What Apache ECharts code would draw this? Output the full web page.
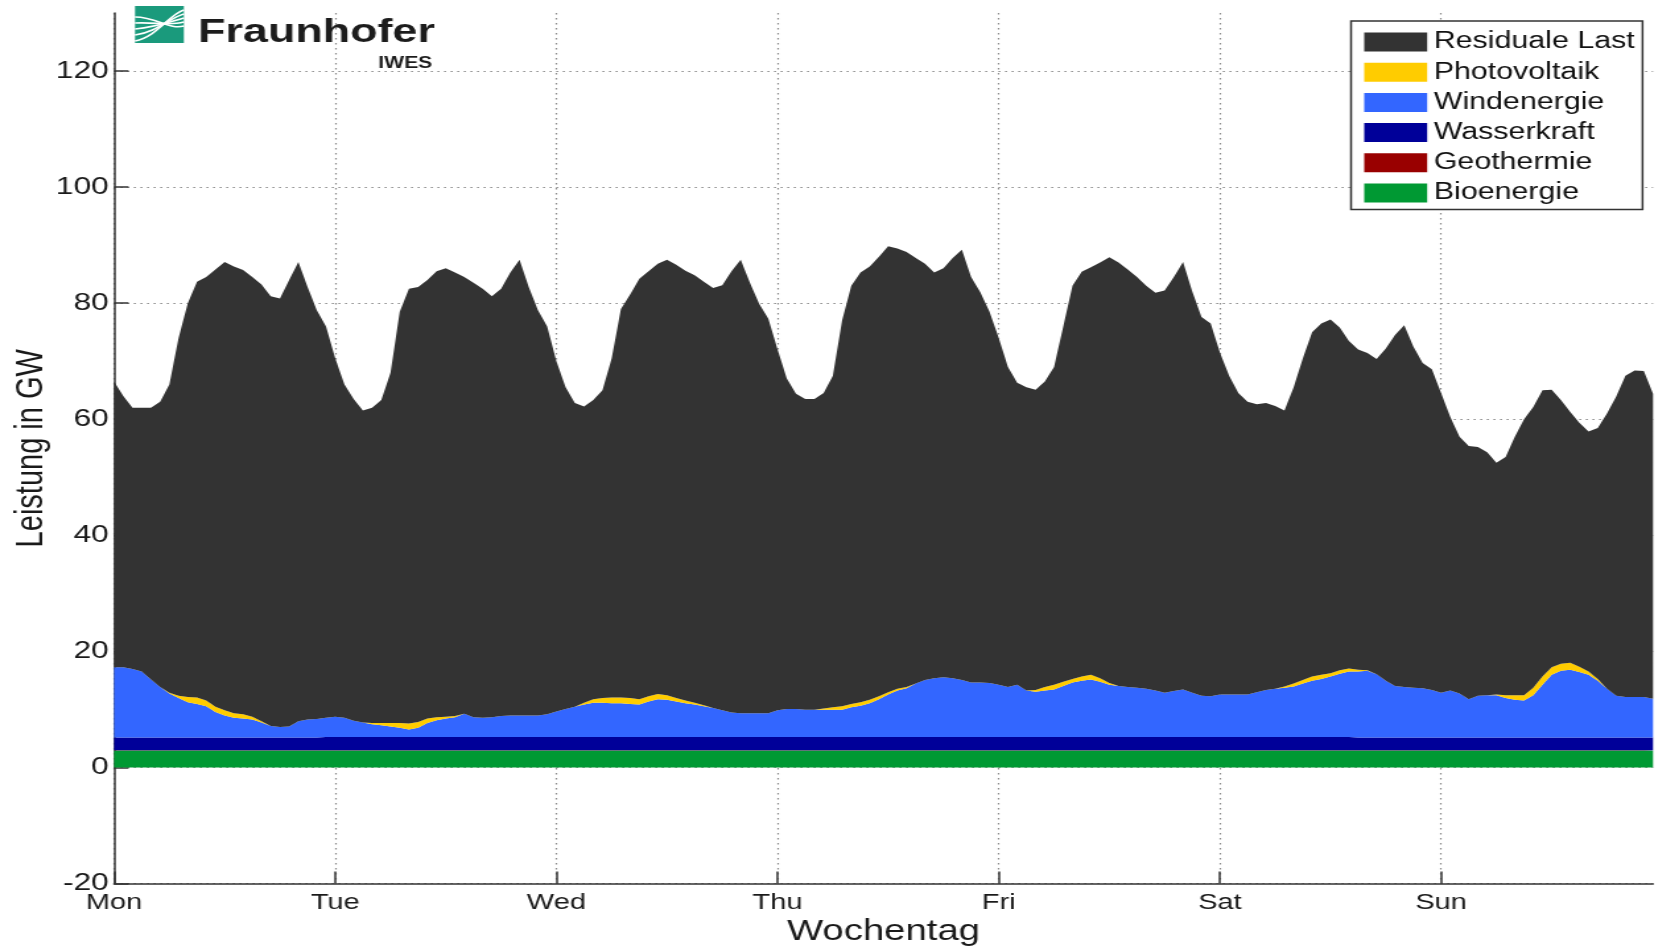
<!DOCTYPE html>
<html>
<head>
<meta charset="utf-8">
<title>Residuale Last</title>
<script src="https://cdn.jsdelivr.net/npm/echarts@6/dist/echarts.min.js"></script>
<style>
  html, body { margin: 0; padding: 0; background: #fff; overflow: hidden; }
  /* the original picture is stretched sideways, so the chart is too */
  #chart { width: 1254px; height: 947px; transform: scaleX(1.32); transform-origin: 0 0; }
</style>
</head>
<body>
<div id="chart"></div>
<script>
// Wochentage (Tick-Beschriftung alle 24 h)
const tage = ['Mon', 'Tue', 'Wed', 'Thu', 'Fri', 'Sat', 'Sun'];

// Gesamtlast in GW, stuendlich (168 h)
const gesamtLast = [
  66.5, 64, 62, 62, 62, 63, 66, 74, 80, 83.7, 84.5, 85.8, 87.1, 86.3, 85.7, 84.5, 83.2, 81.2, 80.8, 84, 87.1, 82.8, 78.8, 76,
  70.5, 66, 63.5, 61.5, 62, 63.3, 68, 78.5, 82.5, 82.8, 84, 85.5, 86, 85.3, 84.5, 83.5, 82.5, 81.2, 82.5, 85.3, 87.5, 82.8, 78.8, 76,
  70, 65.5, 62.8, 62.2, 63.3, 65, 70.5, 79, 81.5, 84.2, 85.5, 86.8, 87.5, 86.6, 85.6, 84.8, 83.7, 82.6, 83.1, 85.5, 87.5, 83.5, 79.9, 77.3,
  72, 67, 64.4, 63.5, 63.5, 64.5, 67.5, 77, 83, 85.3, 86.3, 88, 89.8, 89.4, 88.8, 87.8, 86.8, 85.3, 86, 87.8, 89.2, 84.5, 81.9, 78.5,
  74, 69, 66.3, 65.5, 65.1, 66.5, 69, 76, 83, 85.4, 86.2, 87, 87.9, 87, 85.8, 84.5, 83, 81.8, 82.2, 84.5, 87.1, 82, 77.6, 76.5,
  71.5, 67.5, 64.5, 63, 62.6, 62.8, 62.3, 61.5, 65.5, 70.5, 75, 76.5, 77.2, 75.8, 73.5, 72, 71.4, 70.4, 72.2, 74.5, 76.2, 72.5, 69.7, 68.6,
  64.5, 60.4, 57, 55.4, 55.2, 54.3, 52.5, 53.5, 57, 60, 62.1, 65, 65.1, 63.3, 61.3, 59.4, 57.9, 58.5, 61, 63.9, 67.5, 68.4, 68.3, 64.4
];

const photovoltaik = [
  0, 0, 0, 0, 0, 0, 0.1, 0.4, 0.9, 1.1, 1.0, 0.9, 0.9, 0.8, 0.7, 0.5, 0.2, 0, 0, 0, 0, 0, 0, 0,
  0, 0, 0, 0, 0.2, 0.4, 0.6, 0.8, 1.0, 1.0, 0.8, 0.5, 0.3, 0.2, 0, 0, 0, 0, 0, 0, 0, 0, 0, 0,
  0, 0, 0, 0.3, 0.6, 0.8, 1.0, 1.0, 1.0, 0.9, 0.9, 0.9, 0.8, 0.6, 0.5, 0.3, 0.15, 0, 0, 0, 0, 0, 0, 0,
  0, 0, 0, 0, 0, 0.2, 0.4, 0.6, 0.6, 0.6, 0.6, 0.5, 0.4, 0.3, 0.2, 0, 0, 0, 0, 0, 0, 0, 0, 0,
  0, 0, 0, 0, 0.3, 0.6, 0.8, 0.7, 0.6, 0.7, 0.8, 0.6, 0.3, 0, 0, 0, 0, 0, 0, 0, 0, 0, 0, 0,
  0, 0, 0, 0, 0, 0, 0, 0.2, 0.5, 0.6, 0.7, 0.7, 0.6, 0.6, 0.5, 0.3, 0.1, 0, 0, 0, 0, 0, 0, 0,
  0, 0, 0, 0, 0, 0, 0.1, 0.5, 0.8, 0.9, 1.3, 1.4, 1.3, 1.2, 1.2, 0.9, 0.6, 0.3, 0, 0, 0, 0, 0, 0
];

const windenergie = [
  12.1, 12.1, 11.8, 11.4, 10.0, 8.7, 7.6, 6.8, 6.1, 5.8, 5.4, 4.4, 3.8, 3.4, 3.3, 3.1, 2.6, 2.0, 1.8, 1.9, 2.8, 3.1, 3.2, 3.3,
  3.5, 3.3, 2.8, 2.5, 2.2, 2.0, 1.8, 1.6, 1.3, 1.6, 2.4, 2.9, 3.2, 3.4, 4.0, 3.4, 3.3, 3.4, 3.6, 3.7, 3.7, 3.7, 3.7, 3.9,
  4.4, 4.8, 5.2, 5.6, 5.9, 5.9, 5.8, 5.8, 5.7, 5.6, 6.1, 6.5, 6.4, 6.1, 5.8, 5.6, 5.3, 5.0, 4.6, 4.2, 4.1, 4.1, 4.1, 4.1,
  4.6, 4.8, 4.8, 4.7, 4.7, 4.7, 4.7, 4.7, 5.1, 5.4, 5.8, 6.5, 7.3, 8.0, 8.4, 9.2, 9.8, 10.1, 10.3, 10.1, 9.8, 9.4, 9.4, 9.3,
  9.0, 8.6, 9.0, 8.0, 7.8, 8.0, 8.2, 8.8, 9.4, 9.7, 9.9, 9.5, 9.0, 8.8, 8.6, 8.5, 8.3, 8.0, 7.6, 7.9, 8.2, 7.6, 7.1, 7.0,
  7.3, 7.3, 7.3, 7.3, 7.7, 8.1, 8.3, 8.5, 8.7, 9.2, 9.7, 10.0, 10.4, 10.9, 11.3, 11.4, 11.5, 10.9, 9.8, 8.9, 8.7, 8.6, 8.5, 8.2,
  7.7, 8.1, 7.6, 6.6, 7.2, 7.3, 7.3, 6.8, 6.5, 6.4, 7.3, 9.1, 10.8, 11.5, 11.7, 11.3, 10.8, 9.8, 8.4, 7.2, 7.0, 7.0, 7.0, 6.7
];

const wasserkraft = [
  2.2, 2.2, 2.2, 2.2, 2.2, 2.2, 2.2, 2.2, 2.2, 2.2, 2.2, 2.2, 2.2, 2.2, 2.2, 2.2, 2.2, 2.2, 2.2, 2.2, 2.2, 2.2, 2.2, 2.3,
  2.3, 2.3, 2.3, 2.3, 2.3, 2.3, 2.3, 2.3, 2.3, 2.3, 2.3, 2.3, 2.3, 2.3, 2.3, 2.3, 2.3, 2.3, 2.3, 2.3, 2.3, 2.3, 2.3, 2.3,
  2.3, 2.3, 2.3, 2.3, 2.3, 2.3, 2.3, 2.3, 2.3, 2.3, 2.3, 2.3, 2.3, 2.3, 2.3, 2.3, 2.3, 2.3, 2.3, 2.3, 2.3, 2.3, 2.3, 2.3,
  2.3, 2.3, 2.3, 2.3, 2.3, 2.3, 2.3, 2.3, 2.3, 2.3, 2.3, 2.3, 2.3, 2.3, 2.3, 2.3, 2.3, 2.3, 2.3, 2.3, 2.3, 2.3, 2.3, 2.3,
  2.3, 2.3, 2.3, 2.3, 2.3, 2.3, 2.3, 2.3, 2.3, 2.3, 2.3, 2.3, 2.3, 2.3, 2.3, 2.3, 2.3, 2.3, 2.3, 2.3, 2.3, 2.3, 2.3, 2.3,
  2.3, 2.3, 2.3, 2.3, 2.3, 2.3, 2.3, 2.3, 2.3, 2.3, 2.3, 2.3, 2.3, 2.3, 2.3, 2.2, 2.2, 2.2, 2.2, 2.2, 2.2, 2.2, 2.2, 2.2,
  2.2, 2.2, 2.2, 2.2, 2.2, 2.2, 2.2, 2.2, 2.2, 2.2, 2.2, 2.2, 2.2, 2.2, 2.2, 2.2, 2.2, 2.2, 2.2, 2.2, 2.2, 2.2, 2.2, 2.2
];

const geothermie = [
  0.05, 0.05, 0.05, 0.05, 0.05, 0.05, 0.05, 0.05, 0.05, 0.05, 0.05, 0.05, 0.05, 0.05, 0.05, 0.05, 0.05, 0.05, 0.05, 0.05, 0.05, 0.05, 0.05, 0.05,
  0.05, 0.05, 0.05, 0.05, 0.05, 0.05, 0.05, 0.05, 0.05, 0.05, 0.05, 0.05, 0.05, 0.05, 0.05, 0.05, 0.05, 0.05, 0.05, 0.05, 0.05, 0.05, 0.05, 0.05,
  0.05, 0.05, 0.05, 0.05, 0.05, 0.05, 0.05, 0.05, 0.05, 0.05, 0.05, 0.05, 0.05, 0.05, 0.05, 0.05, 0.05, 0.05, 0.05, 0.05, 0.05, 0.05, 0.05, 0.05,
  0.05, 0.05, 0.05, 0.05, 0.05, 0.05, 0.05, 0.05, 0.05, 0.05, 0.05, 0.05, 0.05, 0.05, 0.05, 0.05, 0.05, 0.05, 0.05, 0.05, 0.05, 0.05, 0.05, 0.05,
  0.05, 0.05, 0.05, 0.05, 0.05, 0.05, 0.05, 0.05, 0.05, 0.05, 0.05, 0.05, 0.05, 0.05, 0.05, 0.05, 0.05, 0.05, 0.05, 0.05, 0.05, 0.05, 0.05, 0.05,
  0.05, 0.05, 0.05, 0.05, 0.05, 0.05, 0.05, 0.05, 0.05, 0.05, 0.05, 0.05, 0.05, 0.05, 0.05, 0.05, 0.05, 0.05, 0.05, 0.05, 0.05, 0.05, 0.05, 0.05,
  0.05, 0.05, 0.05, 0.05, 0.05, 0.05, 0.05, 0.05, 0.05, 0.05, 0.05, 0.05, 0.05, 0.05, 0.05, 0.05, 0.05, 0.05, 0.05, 0.05, 0.05, 0.05, 0.05, 0.05
];

const bioenergie = [
  2.9, 2.9, 2.9, 2.9, 2.9, 2.9, 2.9, 2.9, 2.9, 2.9, 2.9, 2.9, 2.9, 2.9, 2.9, 2.9, 2.9, 2.9, 2.9, 2.9, 2.9, 2.9, 2.9, 2.9,
  2.9, 2.9, 2.9, 2.9, 2.9, 2.9, 2.9, 2.9, 2.9, 2.9, 2.9, 2.9, 2.9, 2.9, 2.9, 2.9, 2.9, 2.9, 2.9, 2.9, 2.9, 2.9, 2.9, 2.9,
  2.9, 2.9, 2.9, 2.9, 2.9, 2.9, 2.9, 2.9, 2.9, 2.9, 2.9, 2.9, 2.9, 2.9, 2.9, 2.9, 2.9, 2.9, 2.9, 2.9, 2.9, 2.9, 2.9, 2.9,
  2.9, 2.9, 2.9, 2.9, 2.9, 2.9, 2.9, 2.9, 2.9, 2.9, 2.9, 2.9, 2.9, 2.9, 2.9, 2.9, 2.9, 2.9, 2.9, 2.9, 2.9, 2.9, 2.9, 2.9,
  2.9, 2.9, 2.9, 2.9, 2.9, 2.9, 2.9, 2.9, 2.9, 2.9, 2.9, 2.9, 2.9, 2.9, 2.9, 2.9, 2.9, 2.9, 2.9, 2.9, 2.9, 2.9, 2.9, 2.9,
  2.9, 2.9, 2.9, 2.9, 2.9, 2.9, 2.9, 2.9, 2.9, 2.9, 2.9, 2.9, 2.9, 2.9, 2.9, 2.9, 2.9, 2.9, 2.9, 2.9, 2.9, 2.9, 2.9, 2.9,
  2.9, 2.9, 2.9, 2.9, 2.9, 2.9, 2.9, 2.9, 2.9, 2.9, 2.9, 2.9, 2.9, 2.9, 2.9, 2.9, 2.9, 2.9, 2.9, 2.9, 2.9, 2.9, 2.9, 2.9
];

const FONT = '"Liberation Sans", Arial, Helvetica, sans-serif';

// Stunden-Kategorien 0..167
const stunden = gesamtLast.map((_, h) => String(h));

// residuale Last = Gesamtlast minus aller Erneuerbaren
const residual = gesamtLast.map((v, i) =>
  +(v - bioenergie[i] - geothermie[i] - wasserkraft[i] - windenergie[i] - photovoltaik[i]).toFixed(2)
);

function area(name, color, arr) {
  return {
    name,
    type: 'line',
    stack: 'last',
    data: arr,
    color,
    symbol: 'none',
    smooth: false,
    lineStyle: { width: 0 },
    areaStyle: { color, opacity: 1 },
    emphasis: { disabled: true },
  };
}

const chart = echarts.init(document.getElementById('chart'));

// Fraunhofer Logo (Symbol + Schrift)
const lx = 102.3, ly = 6, ls = 37;
const logoLines = [0, 1, 2, 3, 4].map((k) => ({
  type: 'bezierCurve',
  z: 100,
  shape: {
    x1: lx, y1: ly + ls - 2 - k * 6,
    x2: lx + ls, y2: ly + 4 + k * 4,
    cpx1: lx + ls * 0.45, cpy1: ly + ls - 6 - k * 5,
    cpx2: lx + ls * 0.7, cpy2: ly + 8 + k * 4,
  },
  style: { stroke: '#fff', lineWidth: 1.6, fill: null },
  silent: true,
}));

const gridLine = { color: '#8a8a8a', type: [1.5, 3.5], width: 1.2 };

const option = {
  animation: false,
  backgroundColor: '#fff',
  grid: { left: 86.4, right: 1.7, top: 13, bottom: 63.5, containLabel: false, outerBoundsMode: 'none' },
  xAxis: {
    type: 'category',
    data: stunden,
    boundaryGap: false,
    name: 'Wochentag',
    nameLocation: 'middle',
    nameGap: 34,
    nameMoveOverlap: false,
    nameTextStyle: { fontSize: 29, color: '#1a1a1a', fontFamily: FONT },
    axisLine: { onZero: false, lineStyle: { color: '#333', width: 1.5 } },
    axisTick: { inside: true, length: 12, interval: 23, lineStyle: { color: '#333', width: 1.5 } },
    axisLabel: {
      interval: 23,
      fontSize: 22,
      color: '#1a1a1a',
      fontFamily: FONT,
      margin: 8,
      formatter: (v, idx) => tage[idx / 24] || '',
    },
    splitLine: { show: true, interval: 23, lineStyle: gridLine },
  },
  yAxis: {
    type: 'value',
    min: -20,
    max: 130,
    interval: 20,
    name: 'Leistung in GW',
    nameLocation: 'middle',
    nameGap: 48,
    nameMoveOverlap: false,
    nameTextStyle: { fontSize: 29, color: '#1a1a1a', fontFamily: FONT },
    axisLine: { show: true, onZero: false, lineStyle: { color: '#333', width: 1.5 } },
    axisTick: { show: true, inside: true, length: 11, lineStyle: { color: '#333', width: 1.5 } },
    axisLabel: { fontSize: 24, color: '#1a1a1a', fontFamily: FONT, margin: 4, showMaxLabel: false },
    splitLine: { show: true, showMaxLine: false, lineStyle: gridLine },
  },
  legend: {
    data: ['Residuale Last', 'Photovoltaik', 'Windenergie', 'Wasserkraft', 'Geothermie', 'Bioenergie'],
    orient: 'vertical',
    left: 1023.5,
    top: 21,
    icon: 'rect',
    itemWidth: 47.7,
    itemHeight: 19,
    itemGap: 7.2,
    padding: [9.5, 6, 5, 10],
    borderColor: '#333',
    borderWidth: 1.5,
    backgroundColor: '#fff',
    selectedMode: false,
    textStyle: { fontSize: 23, lineHeight: 20, color: '#111', fontFamily: FONT },
  },
  graphic: [
    { type: 'rect', z: 100, shape: { x: lx, y: ly, width: ls, height: ls }, style: { fill: '#1a9a7c' }, silent: true },
    ...logoLines,
    {
      type: 'text', z: 100, x: 150, y: 16, silent: true,
      style: { text: 'Fraunhofer', font: 'bold 34px ' + FONT, fill: '#1c1c1c', align: 'left', verticalAlign: 'top' },
    },
    {
      type: 'text', z: 100, x: 327.5, y: 56, silent: true,
      style: { text: 'IWES', font: 'bold 16px ' + FONT, fill: '#1c1c1c', align: 'right', verticalAlign: 'top' },
    },
  ],
  series: [
    area('Bioenergie', '#009933', bioenergie),
    area('Geothermie', '#990000', geothermie),
    area('Wasserkraft', '#000099', wasserkraft),
    area('Windenergie', '#3366ff', windenergie),
    area('Photovoltaik', '#ffcc00', photovoltaik),
    area('Residuale Last', '#333333', residual),
  ],
};

chart.setOption(option);
</script>
</body>
</html>
